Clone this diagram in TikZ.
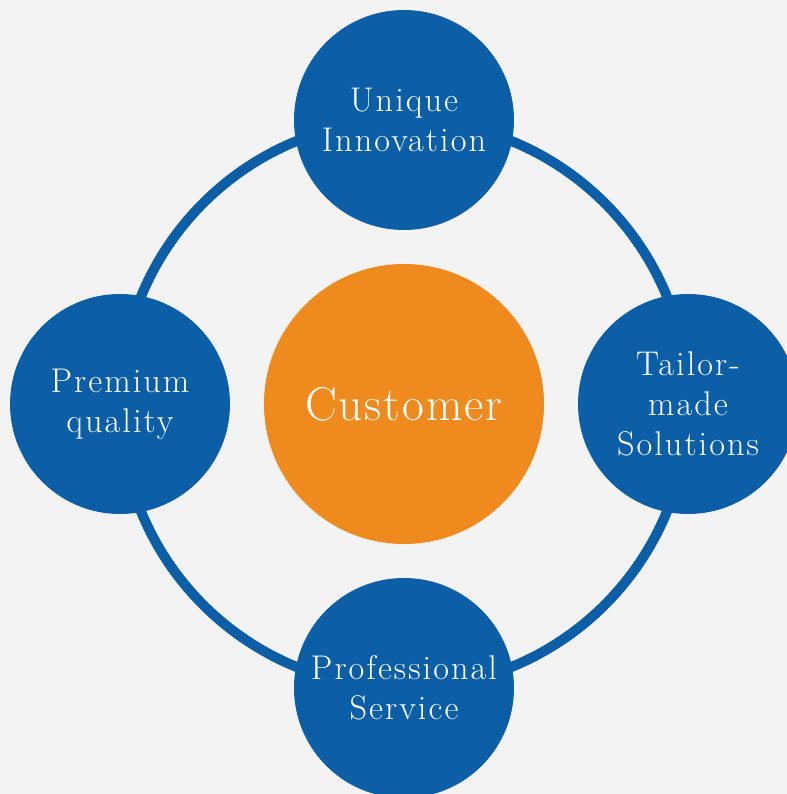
\documentclass[tikz,border=0pt]{standalone}
\usepackage{fontspec}
\usetikzlibrary{positioning}

\newfontfamily\satfont[LetterSpace=6]{Latin Modern Roman}
\newfontfamily\hubfont[LetterSpace=4]{Latin Modern Roman}

\definecolor{ringblue}{RGB}{12,94,166}
\definecolor{custorange}{RGB}{238,138,30}
\definecolor{bggray}{RGB}{243,243,243}

\begin{document}
\begin{tikzpicture}[on grid,node distance=5.68cm,
	hub/.style={circle,fill=custorange,text=white,minimum size=5.6cm,inner sep=0pt,
		font=\hubfont\fontsize{27}{32}\selectfont},
	sat/.style={circle,fill=ringblue,text=white,minimum size=4.4cm,inner sep=0pt,align=center,
		font=\satfont\fontsize{19.5}{22.8}\selectfont}]
	\path[use as bounding box,fill=bggray] (-8.08,-7.80) rectangle (7.66,8.08);

	\node[hub] (cust) at (0,0) {Customer};
	\draw[ringblue,line width=0.2cm] (cust.center) circle (5.68cm);

	\node[sat] (innov) [above=of cust] {Unique\\Innovation};
	\node[sat] (qual)  [left=of cust]  {Premium\\quality};
	\node[sat] (tail)  [right=of cust] {Tailor-\\made\\Solutions};
	\node[sat] (serv)  [below=of cust] {Professional\\Service};
\end{tikzpicture}
\end{document}
